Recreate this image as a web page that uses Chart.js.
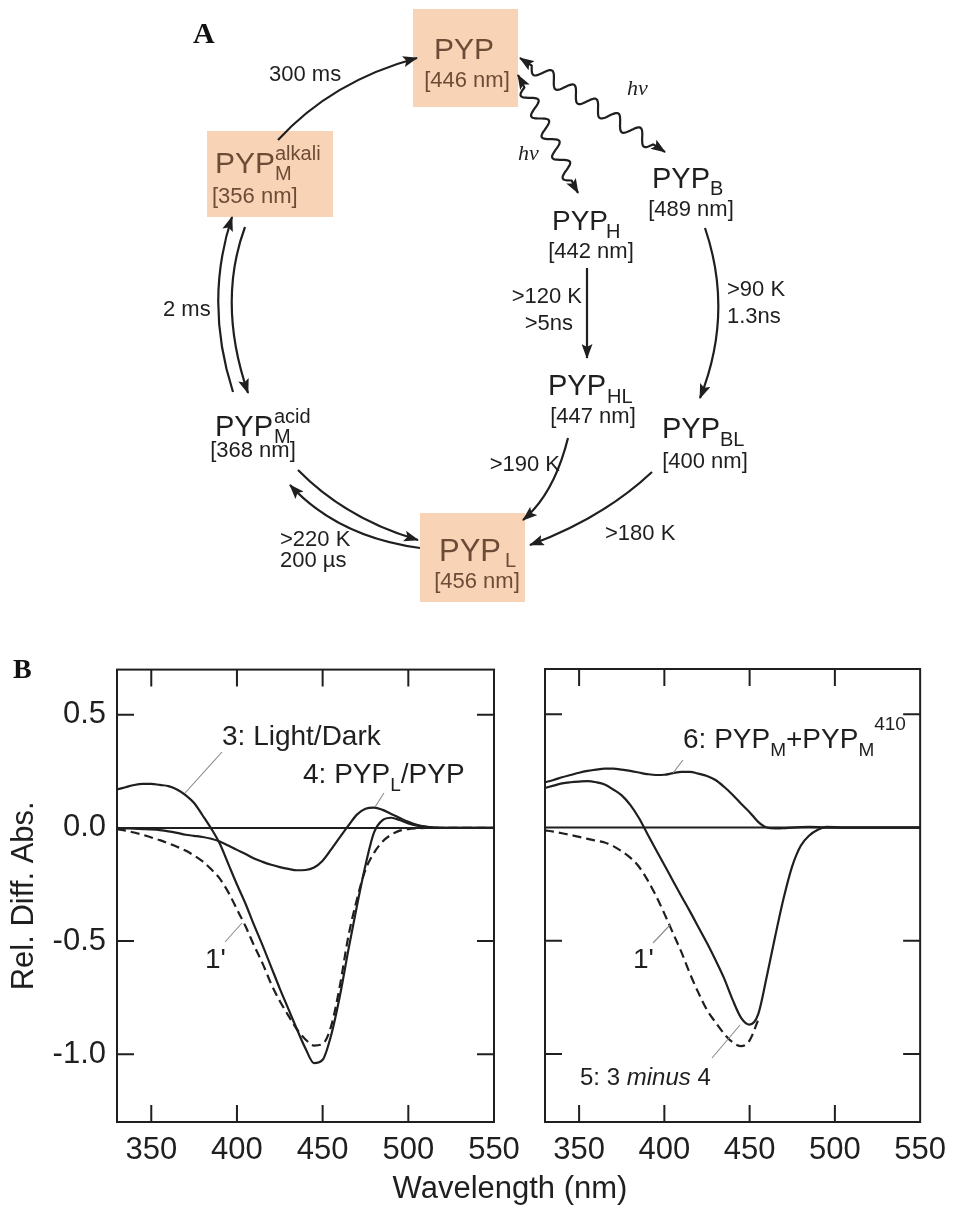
<!DOCTYPE html>
<html>
<head>
<meta charset="utf-8">
<script src="https://cdn.jsdelivr.net/npm/chart.js@4.4.1/dist/chart.umd.min.js"></script>
<style>
  html, body { margin: 0; padding: 0; background: #fff; }
  #page { position: relative; width: 956px; height: 1208px; overflow: hidden; }
  canvas { position: absolute; }
  #left { left: 0; top: 640px; }
  #right { left: 520px; top: 640px; }
  #art { position: absolute; left: 0; top: 0; pointer-events: none; }
</style>
</head>
<body>
<div id="page">
  <canvas id="left" width="530" height="540"></canvas>
  <canvas id="right" width="436" height="540"></canvas>

  <svg id="art" width="956" height="1208" viewBox="0 0 956 1208" xmlns="http://www.w3.org/2000/svg">
    <defs>
      <marker id="ah" viewBox="0 0 15 11" refX="14" refY="5.5" markerWidth="15" markerHeight="11"
              markerUnits="userSpaceOnUse" orient="auto-start-reverse">
        <path d="M0,0 L15,5.5 L0,11 L3,5.5 Z" fill="#1f1f1f"/>
      </marker>
    </defs>

    <!-- A: photocycle boxes -->
    <g fill="#f9d3b6">
      <rect x="413" y="9" width="105" height="98"/>
      <rect x="207" y="131" width="126" height="86"/>
      <rect x="420" y="513" width="105" height="89"/>
    </g>

    <!-- A: arrows -->
    <g fill="none" stroke="#1f1f1f" stroke-width="2.2" marker-end="url(#ah)">
      <path d="M278,140 Q332,81 417,58"/>
      <path d="M233,392 Q204,302 232,217"/>
      <path d="M245,227 Q217,303 248,393"/>
      <path d="M298,470 Q346,519 418,540"/>
      <path d="M420,548 Q338,537 290,485"/>
      <path d="M568,438 Q554,494 523,520"/>
      <path d="M652,472 Q603,518 530,545"/>
      <path d="M705,228 Q734,313 700,398"/>
      <path d="M587,268 L587,358"/>
    </g>
    <g fill="none" stroke="#1f1f1f" stroke-width="2.2" marker-start="url(#ah)" marker-end="url(#ah)">
      <path id="waveB"/>
      <path id="waveH"/>
    </g>

    <!-- A: labels -->
    <text x="193" y="43" font-family="'Liberation Serif', serif" font-weight="bold" font-size="30" fill="#111">A</text>
    <g font-family="'Liberation Sans', Arial, sans-serif" fill="#1f1f1f">
      <g fill="#6d4c37">
        <text x="464" y="59" font-size="30" text-anchor="middle">PYP</text>
        <text x="467" y="87" font-size="22" text-anchor="middle">[446 nm]</text>
        <text x="215" y="173" font-size="30">PYP</text>
        <text x="275" y="160" font-size="20">alkali</text>
        <text x="275" y="180" font-size="20">M</text>
        <text x="212" y="203" font-size="22">[356 nm]</text>
        <text x="439" y="561" font-size="31">PYP</text>
        <text x="505" y="567" font-size="20">L</text>
        <text x="477" y="588" font-size="22" text-anchor="middle">[456 nm]</text>
      </g>
      <text x="269" y="81" font-size="22">300 ms</text>
      <text x="163" y="316" font-size="22">2 ms</text>

      <text x="652" y="188" font-size="29">PYP</text>
      <text x="710" y="195" font-size="20">B</text>
      <text x="691" y="216" font-size="22" text-anchor="middle">[489 nm]</text>

      <text x="552" y="230" font-size="28">PYP</text>
      <text x="606" y="238" font-size="20">H</text>
      <text x="591" y="258" font-size="22" text-anchor="middle">[442 nm]</text>

      <text x="582" y="303" font-size="22" text-anchor="end">&gt;120 K</text>
      <text x="573" y="330" font-size="22" text-anchor="end">&gt;5ns</text>
      <text x="727" y="296" font-size="22">&gt;90 K</text>
      <text x="727" y="323" font-size="22">1.3ns</text>

      <text x="548" y="395" font-size="29">PYP</text>
      <text x="607" y="403" font-size="20">HL</text>
      <text x="593" y="423" font-size="22" text-anchor="middle">[447 nm]</text>

      <text x="662" y="438" font-size="29">PYP</text>
      <text x="720" y="446" font-size="20">BL</text>
      <text x="705" y="468" font-size="22" text-anchor="middle">[400 nm]</text>

      <text x="215" y="436" font-size="29">PYP</text>
      <text x="274" y="423" font-size="20">acid</text>
      <text x="274" y="443" font-size="20">M</text>
      <text x="253" y="457" font-size="22" text-anchor="middle">[368 nm]</text>

      <text x="560" y="471" font-size="22" text-anchor="end">&gt;190 K</text>
      <text x="605" y="540" font-size="22">&gt;180 K</text>
      <text x="280" y="546" font-size="22">&gt;220 K</text>
      <text x="280" y="567" font-size="22">200 µs</text>
    </g>
    <g font-family="'Liberation Serif', serif" font-style="italic" font-size="22" fill="#1f1f1f">
      <text x="627" y="95">hν</text>
      <text x="518" y="160">hν</text>
    </g>

    <!-- B: panel letter, annotations, axis title -->
    <text x="13" y="678" font-family="'Liberation Serif', serif" font-weight="bold" font-size="28" fill="#111">B</text>
    <g stroke="#8c8c8c" stroke-width="1.1">
      <line x1="222" y1="752" x2="185" y2="793"/>
      <line x1="384" y1="793" x2="375" y2="807"/>
      <line x1="225" y1="942" x2="242" y2="923"/>
      <line x1="683" y1="760" x2="673" y2="773"/>
      <line x1="653" y1="943" x2="670" y2="925"/>
      <line x1="712" y1="1058" x2="740" y2="1025"/>
    </g>
    <g font-family="'Liberation Sans', Arial, sans-serif" fill="#1f1f1f">
      <text x="222" y="745" font-size="28">3: Light/Dark</text>
      <text x="303" y="783" font-size="28">4: PYP<tspan dy="8" font-size="19">L</tspan><tspan dy="-8">/PYP</tspan></text>
      <text x="205" y="968" font-size="28">1'</text>
      <text x="683" y="748" font-size="28">6: PYP<tspan dy="8" font-size="19">M</tspan><tspan dy="-8">+PYP</tspan><tspan dy="8" font-size="19">M</tspan><tspan dy="-26" font-size="19">410</tspan></text>
      <text x="633" y="968" font-size="28">1'</text>
      <text x="580" y="1085" font-size="24">5: 3 <tspan font-style="italic">minus</tspan> 4</text>
      <text x="510" y="1198" font-size="31" text-anchor="middle">Wavelength (nm)</text>
    </g>
  </svg>
</div>

<script>
// wavelength grid (nm) and difference spectra
const WAVELENGTH = [330, 335, 340, 345, 350, 355, 360, 365, 370, 375, 380, 385, 390, 395, 400, 405, 410, 415, 420, 425,
                    430, 435, 440, 445, 450, 455, 460, 465, 470, 475, 480, 485, 490, 495, 500, 505, 510, 515, 520, 530, 540, 550];

// left panel
const LIGHT_DARK = [0.17, 0.18, 0.19, 0.195, 0.195, 0.19, 0.185, 0.17, 0.145, 0.11, 0.055, -0.003, -0.07, -0.16, -0.25, -0.335, -0.43, -0.52, -0.615, -0.71,
                    -0.80, -0.89, -0.975, -1.04, -1.025, -0.915, -0.745, -0.54, -0.345, -0.165, -0.02, 0.035, 0.045, 0.035, 0.02, 0.01, 0.005, 0.002, 0, 0, 0, 0];
const PYPL_PYP = [0, -0.002, -0.003, -0.005, -0.007, -0.01, -0.015, -0.022, -0.03, -0.035, -0.04, -0.048, -0.06, -0.078, -0.097, -0.115, -0.135, -0.15, -0.163, -0.173,
                  -0.181, -0.187, -0.186, -0.175, -0.145, -0.095, -0.042, 0.01, 0.059, 0.085, 0.09, 0.08, 0.062, 0.044, 0.027, 0.014, 0.006, 0.002, 0, 0, 0, 0];
const REF_1P = [-0.005, -0.012, -0.02, -0.03, -0.042, -0.054, -0.068, -0.083, -0.1, -0.122, -0.148, -0.183, -0.224, -0.285, -0.36, -0.435, -0.52, -0.6, -0.69, -0.765,
                -0.83, -0.89, -0.935, -0.962, -0.955, -0.875, -0.7, -0.48, -0.316, -0.185, -0.11, -0.06, -0.03, -0.012, -0.005, -0.002, 0, 0, 0, 0, 0, 0];

// right panel
const PYPM_SUM = [0.2, 0.21, 0.222, 0.232, 0.242, 0.25, 0.256, 0.26, 0.26, 0.256, 0.25, 0.243, 0.236, 0.232, 0.233, 0.24, 0.246, 0.246, 0.238, 0.228,
                  0.21, 0.18, 0.145, 0.105, 0.068, 0.025, 0.0, -0.004, -0.003, 0, 0.002, 0.003, 0.002, 0, 0, 0, 0, 0, 0, 0, 0, 0];
const MINUS_3_4 = [0.175, 0.185, 0.195, 0.2, 0.203, 0.205, 0.2, 0.19, 0.168, 0.142, 0.1, 0.043, -0.027, -0.097, -0.165, -0.235, -0.303, -0.37, -0.44, -0.51,
                   -0.585, -0.665, -0.76, -0.84, -0.87, -0.825, -0.66, -0.48, -0.31, -0.17, -0.08, -0.035, -0.01, 0.003, 0.002, 0, 0, 0, 0, 0, 0, 0];
const REF_1P_R = [-0.012, -0.018, -0.025, -0.033, -0.041, -0.05, -0.058, -0.066, -0.082, -0.105, -0.133, -0.172, -0.23, -0.3, -0.38, -0.465, -0.55, -0.645, -0.73, -0.805,
                  -0.86, -0.91, -0.948, -0.965, -0.94, -0.85, null, null, null, null, null, null, null, null, null, null, null, null, null, null, null, null];

const X_TICKS = [350, 400, 450, 500, 550];
const Y_TICKS = [0.5, 0.0, -0.5, -1.0];

const INK = '#1f1f1f';
const TICK = 17;

Chart.defaults.font.family = "'Liberation Sans', Arial, sans-serif";
Chart.defaults.color = INK;

const pts = (vals) => WAVELENGTH.map((w, i) => ({ x: w, y: vals[i] })).filter(p => p.y !== null);

// frame, zero line and inward ticks on all four sides
const framePlugin = {
    id: 'frame',
    afterDatasetsDraw(chart) {
        const { ctx, chartArea: a, scales: { x, y } } = chart;
        ctx.save();
        ctx.strokeStyle = INK;
        ctx.lineWidth = 2;
        ctx.beginPath();
        const y0 = y.getPixelForValue(0);
        ctx.moveTo(a.left, y0);
        ctx.lineTo(a.right, y0);
        X_TICKS.forEach(v => {
            const px = x.getPixelForValue(v);
            if (px > a.left + 2 && px < a.right - 2) {
                ctx.moveTo(px, a.bottom); ctx.lineTo(px, a.bottom - TICK);
                ctx.moveTo(px, a.top); ctx.lineTo(px, a.top + TICK);
            }
        });
        Y_TICKS.forEach(v => {
            const py = y.getPixelForValue(v);
            ctx.moveTo(a.left, py); ctx.lineTo(a.left + TICK, py);
            ctx.moveTo(a.right, py); ctx.lineTo(a.right - TICK, py);
        });
        ctx.stroke();
        ctx.strokeRect(a.left, a.top, a.right - a.left, a.bottom - a.top);
        ctx.restore();
    }
};

function line(vals, dashed) {
    return {
        data: pts(vals),
        borderColor: INK,
        borderWidth: 2.2,
        borderDash: dashed ? [9, 5] : [],
        pointRadius: 0,
        fill: false,
        cubicInterpolationMode: 'monotone'
    };
}

function panelOptions(showY) {
    return {
        responsive: false,
        animation: false,
        layout: { padding: showY ? { top: 29, right: 36, bottom: 0, left: 6 } : { top: 29, right: 33, bottom: 0, left: 25 } },
        plugins: { legend: { display: false }, tooltip: { enabled: false } },
        scales: {
            x: {
                type: 'linear', min: 330, max: 550,
                afterBuildTicks: s => { s.ticks = X_TICKS.map(v => ({ value: v })); },
                afterFit: s => { s.height = 58; },
                grid: { display: false, drawTicks: false },
                border: { display: false },
                ticks: { color: INK, font: { size: 31 }, padding: 10, maxRotation: 0, autoSkip: false }
            },
            y: {
                type: 'linear', min: -1.3, max: 0.7,
                afterBuildTicks: s => { s.ticks = Y_TICKS.map(v => ({ value: v })); },
                afterFit: s => { s.width = showY ? 111 : 0; },
                grid: { display: false, drawTicks: false },
                border: { display: false },
                ticks: { display: showY, color: INK, font: { size: 31 }, padding: 11, callback: v => v.toFixed(1) },
                title: { display: showY, text: 'Rel. Diff. Abs.', color: INK, font: { size: 31 }, padding: 0 }
            }
        }
    };
}

new Chart(document.getElementById('left'), {
    type: 'line',
    data: { datasets: [line(LIGHT_DARK), line(PYPL_PYP), line(REF_1P, true)] },
    options: panelOptions(true),
    plugins: [framePlugin]
});

new Chart(document.getElementById('right'), {
    type: 'line',
    data: { datasets: [line(PYPM_SUM), line(MINUS_3_4), line(REF_1P_R, true)] },
    options: panelOptions(false),
    plugins: [framePlugin]
});

// wavy photon arrows in panel A
function wavy(x1, y1, x2, y2, waves, amp, lead) {
    const dx = x2 - x1, dy = y2 - y1, len = Math.hypot(dx, dy);
    const ux = dx / len, uy = dy / len, nx = -uy, ny = ux;
    let d = `M${x1},${y1}`;
    const n = 160;
    for (let i = 1; i <= n; i++) {
        const s = i / n * len;
        let off = 0;
        if (s > lead && s < len - lead) off = amp * Math.sin((s - lead) / (len - 2 * lead) * waves * 2 * Math.PI);
        d += ` L${(x1 + ux * s + nx * off).toFixed(1)},${(y1 + uy * s + ny * off).toFixed(1)}`;
    }
    return d;
}
document.getElementById('waveB').setAttribute('d', wavy(520, 58, 665, 152, 5.5, 7, 14));
document.getElementById('waveH').setAttribute('d', wavy(518, 75, 578, 193, 4.5, 7, 14));
</script>
</body>
</html>
